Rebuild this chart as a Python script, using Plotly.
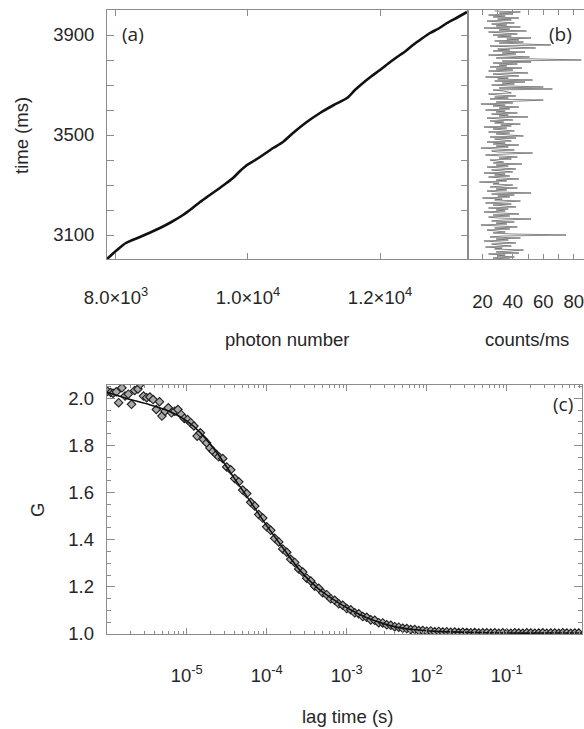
import plotly.graph_objects as go

W, H = 584, 729

# ---------------- data ----------------
# (a) cumulative photon number vs time
photon_number = [7864, 8015, 8150, 8364, 8520, 8667, 8840, 9015, 9150, 9273, 9400, 9530,
                 9650, 9773, 9880, 9985, 10100, 10227, 10380, 10530, 10682, 10880, 11091,
                 11300, 11500, 11620, 11742, 11870, 12000, 12130, 12258, 12380, 12500,
                 12630, 12758, 12890, 13015, 13170, 13318]
photon_time_ms = [3004, 3040, 3068, 3092, 3110, 3128, 3152, 3180, 3206, 3232, 3256, 3280,
                  3303, 3328, 3356, 3380, 3398, 3420, 3448, 3472, 3508, 3550, 3588,
                  3620, 3648, 3680, 3708, 3735, 3760, 3787, 3812, 3834, 3860,
                  3885, 3908, 3926, 3948, 3970, 3992]

# (b) intensity trace, 4 ms bins from 3000 ms
bin_start_ms = 3000
bin_width_ms = 4
counts_per_ms = [
    32, 38, 27, 41, 30, 35, 24, 44, 29, 36, 47, 28, 33, 22, 39, 31, 26, 42, 34, 21, 37, 29, 45, 25, 33,
    75, 40, 27, 35, 30, 23, 38, 28, 43, 31, 19, 36, 29, 41, 26, 34, 52, 30, 24, 38, 27, 44, 32, 21, 35,
    29, 37, 24, 42, 31, 27, 39, 22, 34, 45, 28, 33, 20, 38, 30, 41, 26, 52, 31, 23, 36, 29, 43, 25, 33,
    40, 27, 31, 18, 36, 29, 44, 33, 24, 38, 28, 35, 21, 40, 30, 26, 42, 32, 23, 37, 29, 46, 27, 34, 30,
    25, 39, 31, 43, 28, 22, 36, 53, 30, 26, 41, 33, 19, 37, 29, 44, 27, 35, 23, 39, 31, 28, 42, 25, 47,
    33, 29, 38, 24, 41, 30, 27, 36, 21, 39, 32, 45, 28, 34, 25, 40, 30, 23, 50, 31, 37, 26, 43, 29, 35,
    22, 38, 31, 44, 27, 35, 19, 40, 29, 46, 60, 25, 37, 28, 42, 30, 24, 39, 36, 34, 27, 66, 31, 60, 38,
    26, 41, 33, 48, 28, 53, 30, 37, 22, 44, 31, 27, 50, 34, 24, 40, 29, 46, 25, 36, 31, 43, 27, 52, 33,
    85, 45, 29, 51, 36, 24, 42, 33, 48, 27, 38, 30, 55, 35, 25, 65, 40, 31, 47, 28, 44, 36, 52, 30, 39,
    27, 43, 33, 24, 49, 31, 38, 21, 45, 29, 36, 26, 41, 32, 23, 39, 30, 44, 27, 35, 24, 40, 31, 45, 28,
]
bin_time_ms = [bin_start_ms + bin_width_ms * i for i in range(len(counts_per_ms))]

# (c) correlation function: log10(lag time / s) and G
lag_log10 = [
    -5.99, -5.95, -5.92, -5.88, -5.85, -5.81, -5.77, -5.73, -5.69, -5.65, -5.61, -5.58,
    -5.54, -5.50, -5.46, -5.42, -5.38, -5.34, -5.31, -5.27, -5.23, -5.19, -5.15, -5.11,
    -5.07, -5.03, -4.99, -4.95, -4.91, -4.87, -4.83, -4.79, -4.75, -4.71, -4.67, -4.63,
    -4.60, -4.55, -4.50, -4.45, -4.40, -4.35, -4.30, -4.25, -4.20, -4.15, -4.10, -4.05,
    -4.00, -3.95, -3.90, -3.85, -3.80, -3.75, -3.70, -3.65, -3.60, -3.55, -3.50, -3.45,
    -3.40, -3.35, -3.30, -3.25, -3.20, -3.15, -3.10, -3.05, -3.00, -2.95, -2.90, -2.85,
    -2.80, -2.75, -2.70, -2.65, -2.60, -2.55, -2.50, -2.45, -2.40, -2.35, -2.30, -2.25,
    -2.20, -2.15, -2.10, -2.05, -2.00, -1.95, -1.90, -1.85, -1.80, -1.75, -1.70, -1.65,
    -1.60, -1.55, -1.50, -1.45, -1.40, -1.35, -1.30, -1.25, -1.20, -1.15, -1.10, -1.05,
    -1.00, -0.95, -0.90, -0.85, -0.80, -0.75, -0.70, -0.65, -0.60, -0.55, -0.50, -0.45,
    -0.40, -0.35, -0.30, -0.25, -0.20, -0.15, -0.10,
]
G_values = [
    2.030, 2.025, 2.022, 2.028, 1.982, 2.045, 2.010, 2.018, 1.975, 2.034, 2.040, 2.060,
    2.010, 2.003, 2.006, 1.995, 1.953, 1.986, 1.925, 1.946, 1.960, 1.939, 1.946, 1.953,
    1.932, 1.915, 1.910, 1.897, 1.883, 1.840, 1.854, 1.826, 1.811, 1.790, 1.776, 1.762,
    1.752, 1.745, 1.709, 1.697, 1.660, 1.646, 1.611, 1.596, 1.559, 1.543, 1.507, 1.492,
    1.455, 1.440, 1.406, 1.391, 1.361, 1.347, 1.317, 1.304, 1.276, 1.263, 1.237, 1.225,
    1.203, 1.194, 1.175, 1.167, 1.150, 1.143, 1.128, 1.122, 1.108, 1.103, 1.090, 1.086,
    1.074, 1.071, 1.060, 1.058, 1.048, 1.047, 1.039, 1.037, 1.031, 1.029, 1.024, 1.023,
    1.019, 1.019, 1.015, 1.015, 1.012, 1.013, 1.010, 1.011, 1.008, 1.009, 1.007, 1.008,
    1.006, 1.007, 1.006, 1.005, 1.006, 1.004, 1.005, 1.005, 1.004, 1.005, 1.003, 1.005,
    1.004, 1.003, 1.005, 1.004, 1.003, 1.005, 1.004, 1.003, 1.004, 1.005, 1.003, 1.004,
    1.004, 1.003, 1.005, 1.004, 1.003, 1.004, 1.004,
]
fit_lag_log10 = [-6.0, -5.75, -5.5, -5.25, -5.0, -4.83, -4.62, -4.42, -4.21, -4.0, -3.79, -3.58,
                 -3.375, -3.17, -2.96, -2.75, -2.54, -2.33, -2.125, -1.92, -1.5, -1.0, -0.5, -0.06]
fit_G = [2.026, 2.0, 1.977, 1.950, 1.905, 1.855, 1.768, 1.668, 1.565, 1.46, 1.362, 1.268,
         1.198, 1.147, 1.104, 1.069, 1.044, 1.026, 1.018, 1.012, 1.007, 1.004, 1.004, 1.004]

# tick labels
a_x_ticks = [8000, 10000, 12000]
a_x_labels = ["8.0×10<sup>3</sup>", "1.0×10<sup>4</sup>", "1.2×10<sup>4</sup>"]
a_y_ticks = list(range(3000, 4001, 100))
a_y_labels = ["3100" if v == 3100 else "3500" if v == 3500 else "3900" if v == 3900 else "" for v in a_y_ticks]
b_x_ticks = [20, 30, 40, 50, 60, 70, 80]
b_x_labels = ["20", "", "40", "", "60", "", "80"]
c_x_ticks = [1e-5, 1e-4, 1e-3, 1e-2, 1e-1]
c_x_labels = ["10<sup>-5</sup>", "10<sup>-4</sup>", "10<sup>-3</sup>", "10<sup>-2</sup>", "10<sup>-1</sup>"]
c_y_ticks = [1.0, 1.2, 1.4, 1.6, 1.8, 2.0]
c_y_labels = ["1.0", "1.2", "1.4", "1.6", "1.8", "2.0"]

# ---------------- helpers ----------------
def px(x):
    return x / W

def py(y):
    return 1 - y / H

FONT = "Liberation Sans, Arial, sans-serif"
AX = "#8c8c8c"
TXT = "#262626"
TS = 18.5

def axis_style(**kw):
    d = dict(showline=True, linecolor=AX, linewidth=1, ticks="inside", tickcolor=AX,
             tickwidth=1, showgrid=False, zeroline=False, automargin=False,
             tickfont=dict(family=FONT, size=TS, color=TXT))
    d.update(kw)
    return d

fig = go.Figure()

fig.add_trace(go.Scatter(x=photon_number, y=photon_time_ms, xaxis="x", yaxis="y", mode="lines",
                         line=dict(color="#111111", width=2.6, shape="spline", smoothing=0.6),
                         showlegend=False))
fig.add_trace(go.Scatter(x=counts_per_ms, y=bin_time_ms, xaxis="x2", yaxis="y2", mode="lines",
                         line=dict(color="#3a3a3a", width=0.6), showlegend=False))
fig.add_trace(go.Scatter(x=[10 ** v for v in lag_log10], y=G_values, xaxis="x3", yaxis="y3",
                         mode="markers",
                         marker=dict(symbol="diamond", size=6.5, color="#a8a8a8",
                                     line=dict(color="#1e1e1e", width=1.1)),
                         showlegend=False))
fig.add_trace(go.Scatter(x=[10 ** v for v in fit_lag_log10], y=fit_G, xaxis="x3", yaxis="y3",
                         mode="lines", line=dict(color="#111111", width=1.6, shape="spline", smoothing=0.8),
                         showlegend=False))

minor_log = [k * 10.0 ** e for e in range(-6, 0) for k in range(2, 10)]

fig.update_layout(
    width=W, height=H, margin=dict(l=0, r=0, t=0, b=0, autoexpand=False),
    paper_bgcolor="white", plot_bgcolor="white",
    xaxis=axis_style(domain=[px(107), px(468)], range=[7864, 13333], anchor="y",
                     tickvals=a_x_ticks, ticktext=a_x_labels, mirror="ticks", ticklen=6,
                     ticklabelstandoff=22),
    yaxis=axis_style(domain=[py(259), py(10)], range=[3004, 4000], anchor="x",
                     tickvals=a_y_ticks, ticktext=a_y_labels, mirror="ticks", ticklen=7,
                     ticklabelstandoff=8),
    xaxis2=axis_style(domain=[px(468), 1.0], range=[10.5, 86.8], anchor="y2",
                      tickvals=b_x_ticks, ticktext=b_x_labels, mirror="ticks", ticklen=5,
                      ticklabelstandoff=26),
    yaxis2=axis_style(domain=[py(259), py(10)], range=[3004, 4000], anchor="x2",
                      showticklabels=False, ticks="", mirror=False),
    xaxis3=axis_style(type="log", domain=[px(106.7), px(582)], range=[-6, -0.06], anchor="y3",
                      tickvals=c_x_ticks, ticktext=c_x_labels, mirror="ticks", ticklen=6,
                      ticklabelstandoff=25,
                      minor=dict(tickvals=minor_log, ticks="inside", ticklen=3, tickcolor=AX)),
    yaxis3=axis_style(domain=[py(634), py(385)], range=[1.0, 2.057], anchor="x3",
                      tickvals=c_y_ticks, ticktext=c_y_labels, mirror="ticks", ticklen=8,
                      ticklabelstandoff=8,
                      minor=dict(dtick=0.05, tick0=1.0, ticks="inside", ticklen=4, tickcolor=AX)),
)

ann_font = dict(family=FONT, size=TS, color=TXT)
lab_font = dict(family="Open Sans, Liberation Sans, sans-serif", size=19, color=TXT)
annotations = [
    dict(text="time (ms)", x=px(21), y=py(136), textangle=-90, font=ann_font),
    dict(text="photon number", x=px(287), y=py(340), font=ann_font),
    dict(text="counts/ms", x=px(527), y=py(340), font=ann_font),
    dict(text="G", x=px(37), y=py(510), textangle=-90, font=ann_font),
    dict(text="lag time (s)", x=px(348), y=py(716), font=ann_font),
    dict(text="(a)", x=px(133), y=py(34), font=lab_font),
    dict(text="(b)", x=px(560), y=py(34), font=lab_font),
    dict(text="(c)", x=px(563), y=py(404), font=lab_font),
]
for a in annotations:
    a.update(xref="paper", yref="paper", showarrow=False, xanchor="center", yanchor="middle")
fig.update_layout(annotations=annotations)

fig.write_html("out.html", config={"responsive": False, "displayModeBar": False},
               post_script="document.body.style.margin='0px';document.body.style.overflow='hidden';")
